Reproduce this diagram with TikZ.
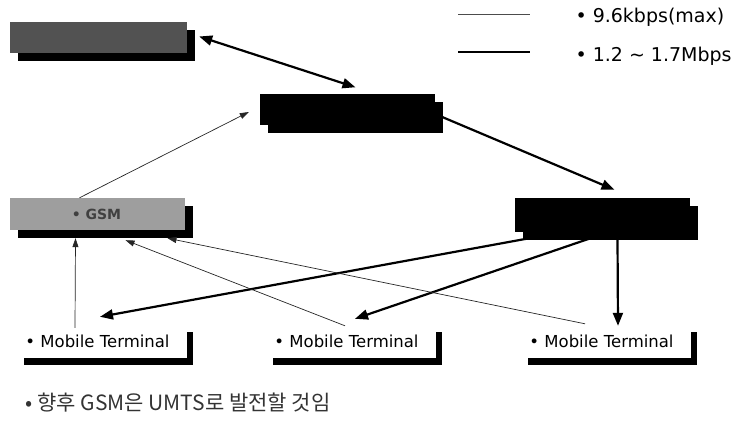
\documentclass[tikz,border=0pt]{standalone}
\usepackage{fontspec}
\setmainfont{DejaVu Sans}
\newfontfamily\krfont{Noto Sans CJK KR}
\usetikzlibrary{arrows.meta,shadows,calc}
\begin{document}
\begin{tikzpicture}[x=1pt,y=-1pt,
  shadebox/.style={minimum width=175pt,minimum height=31pt,inner sep=0pt,
     drop shadow={shadow xshift=8pt,shadow yshift=-8pt,fill=black,opacity=1}},
  termbox/.style={fill=white,minimum width=169pt,minimum height=33pt,inner sep=0pt,
     font=\fontsize{16.5}{19}\selectfont,
     drop shadow={shadow xshift=6pt,shadow yshift=-7pt,fill=black,opacity=1}},
  fat/.style={line width=2.2pt,-{Triangle[length=13pt,width=10pt]}},
  fatboth/.style={line width=2.2pt,{Triangle[length=13pt,width=10pt]}-{Triangle[length=13pt,width=10pt]}},
  thin/.style={line width=0.7pt,black!85,-{Triangle[length=9pt,width=6pt]}},
  legtext/.style={anchor=west,font=\fontsize{19}{22}\selectfont}
]
\useasboundingbox (0,0) rectangle (739,427);
% boxes
\node[shadebox,fill=black!68,minimum width=177pt] (A) at (98.5,37.5) {};
\node[shadebox,fill=black] (B) at (347.5,110) {};
\node[shadebox,fill=black!38,minimum height=32pt] (C) at (97.5,214)
   {\fontsize{14}{16}\selectfont\bfseries\color{black!75}\hspace*{-2pt}• GSM};
\node[shadebox,fill=black,minimum height=34pt] (D) at (602.5,215) {};
% terminals
\node[termbox] (M1) at (102,341.5) {\hspace*{-9pt}• Mobile Terminal};
\node[termbox] (M2) at (351,341.5) {\hspace*{-9pt}• Mobile Terminal};
\node[termbox] (M3) at (606,341.5) {\hspace*{-9pt}• Mobile Terminal};
% connectors
\draw[fatboth] ([xshift=12pt,yshift=1pt]A.east) -- ([xshift=8pt,yshift=7pt]B.north);
\draw[thin] ([xshift=-18pt]C.north) -- ([xshift=-11pt,yshift=-2pt]B.west);
\draw[fat] ([xshift=7pt,yshift=-7pt]B.east) -- ([xshift=12pt,yshift=8pt]D.north);
\draw[fat] ([xshift=-73pt,yshift=-6pt]D.south) -- ([xshift=-2pt,yshift=8pt]M1.north);
\draw[fat] ([xshift=-6pt,yshift=-4pt]D.south) -- ([xshift=4pt,yshift=6pt]M2.north);
\draw[fat] ([xshift=15pt,yshift=-6pt]D.south) -- ([xshift=12pt,yshift=-1pt]M3.north);
\draw[thin] ([xshift=-27pt,yshift=-3pt]M1.north) -- ([xshift=-22pt,yshift=-8pt]C.south);
\draw[thin] ([xshift=-6pt,yshift=-1pt]M2.north) -- ([xshift=28pt,yshift=-10pt]C.south);
\draw[thin] ([xshift=-21pt,yshift=1pt]M3.north) -- ([xshift=70pt,yshift=-8pt]C.south);
% legend
\coordinate (L1a) at (458,14); \coordinate (L1b) at (530,14);
\coordinate (L2a) at (458,52); \coordinate (L2b) at (530,52);
\draw[line width=0.7pt,black!70] (L1a) -- (L1b);
\draw[line width=2pt] (L2a) -- (L2b);
\node[legtext] (T1) at (572,17) {• 9.6kbps(max)};
\node[legtext] (T2) at (572,56) {• 1.2 \textasciitilde{} 1.7Mbps};
% note
\node[anchor=west,font=\krfont\fontsize{21}{24}\selectfont,text=black!80] (N) at (22,403) {• 향후 GSM은 UMTS로 발전할 것임};
\end{tikzpicture}
\end{document}
